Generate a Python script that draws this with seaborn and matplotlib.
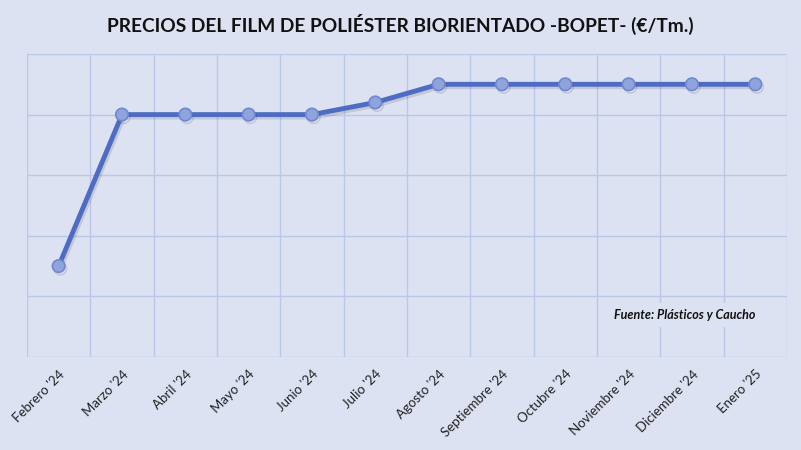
import pandas as pd
import matplotlib
matplotlib.use("Agg")
import matplotlib.pyplot as plt
import matplotlib.patheffects as pe
import seaborn as sns

# Chart data (y values, no axis labels shown)
months = ["Febrero '24", "Marzo '24", "Abril '24", "Mayo '24", "Junio '24", "Julio '24",
          "Agosto '24", "Septiembre '24", "Octubre '24", "Noviembre '24", "Diciembre '24", "Enero '25"]
prices = [750, 2000, 2000, 2000, 2000, 2100, 2250, 2250, 2250, 2250, 2250, 2250]

df = pd.DataFrame({"Mes": months, "Precio": prices})
df["pos"] = range(len(df))

bg = "#DDE2F2"
grid_col = "#B9C8E8"
line_col = "#4F6CC4"

sns.set_theme(style="white")
plt.rcParams["font.family"] = ["Lato", "DejaVu Sans"]

fig = plt.figure(figsize=(8.01, 4.5), dpi=100, facecolor=bg)
ax = fig.add_axes([0.0337, 0.2067, 0.9488, 0.6733])
ax.set_facecolor(bg)

sns.lineplot(data=df, x="pos", y="Precio", ax=ax, color=line_col, linewidth=3.5,
             marker="o", markersize=9, markerfacecolor="#8FA4DC",
             markeredgecolor="#6F88D0", markeredgewidth=1.2,
             path_effects=[pe.SimpleLineShadow(offset=(1.2, -1.8), alpha=0.15, shadow_color="#333333"),
                           pe.Normal()], zorder=3)

ax.set_xlim(-0.5, len(months) - 0.5)
ax.set_ylim(0, 2500)
ax.set_yticks(range(0, 2501, 500))
ax.set_yticklabels([])
ax.set_xticks(df["pos"])
ax.set_xticks([i - 0.5 for i in range(len(months) + 1)], minor=True)
ax.set_xticklabels(months, rotation=45, ha="right", rotation_mode="anchor", fontsize=9.5, color="#222222")
ax.tick_params(axis="x", which="both", length=0, pad=8)
ax.tick_params(axis="y", length=0)
ax.grid(True, axis="y", color=grid_col, linewidth=1)
ax.grid(True, axis="x", which="minor", color=grid_col, linewidth=1)
for s in ax.spines.values():
    s.set_visible(False)
ax.set_xlabel("")
ax.set_ylabel("")

fig.text(0.5, 0.945, "PRECIOS DEL FILM DE POLIÉSTER BIORIENTADO -BOPET- (€/Tm.)",
         ha="center", va="center", fontsize=13.8, fontweight="bold", color="#111111")

ax.text(0.959, 0.139, "Fuente: Plásticos y Caucho", transform=ax.transAxes, ha="right", va="center",
        fontsize=9, fontweight="bold", style="italic", color="#111111", zorder=4,
        bbox=dict(boxstyle="square,pad=0.5", facecolor=bg, edgecolor="none"))

fig.savefig("out.png", dpi=100, facecolor=bg)
